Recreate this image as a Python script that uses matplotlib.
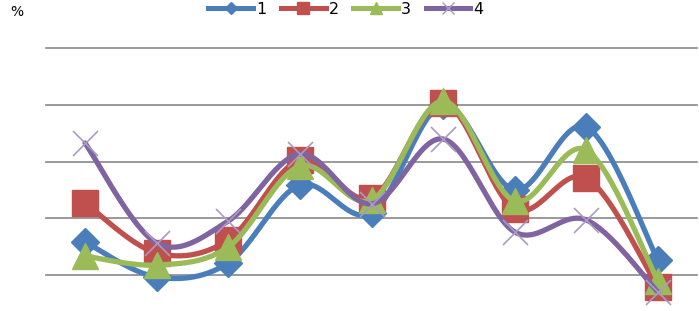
import numpy as np
import matplotlib
matplotlib.use("Agg")
import matplotlib.pyplot as plt
from matplotlib.lines import Line2D

categories = list(range(9))
s1 = [2.91, -0.18, 1.06, 7.93, 5.46, 14.98, 7.49, 13.04, 1.32]
s2 = [6.34, 1.94, 3.08, 10.13, 6.78, 15.15, 5.81, 8.55, -1.06]
s3 = [1.67, 0.88, 2.47, 9.60, 6.61, 15.33, 6.52, 11.01, -0.53]
s4 = [11.63, 2.82, 4.76, 10.66, 6.26, 11.98, 3.79, 4.85, -1.50]
labels = ["1", "2", "3", "4"]
series = [s1, s2, s3, s4]

colors = ["#4A7EBB", "#C0504D", "#9BBB59", "#8064A2"]
markers = ["D", "s", "^", "x"]
msizes = [14, 19, 19, 18]


def smooth(xs, ys, n=30):
    # Excel-like Bezier smoothing (Catmull-Rom control points)
    xs = np.asarray(xs, float); ys = np.asarray(ys, float)
    px, py = [], []
    m = len(xs)
    for i in range(m - 1):
        p0 = np.array([xs[max(i - 1, 0)], ys[max(i - 1, 0)]])
        p1 = np.array([xs[i], ys[i]])
        p2 = np.array([xs[i + 1], ys[i + 1]])
        p3 = np.array([xs[min(i + 2, m - 1)], ys[min(i + 2, m - 1)]])
        c1 = p1 + (p2 - p0) / 6.0
        c2 = p2 - (p3 - p1) / 6.0
        t = np.linspace(0, 1, n)[:, None]
        pts = ((1 - t) ** 3) * p1 + 3 * ((1 - t) ** 2) * t * c1 + 3 * (1 - t) * t ** 2 * c2 + t ** 3 * p2
        px.extend(pts[:, 0]); py.extend(pts[:, 1])
    return px, py


fig = plt.figure(figsize=(6.99, 3.11), dpi=100)
ax = fig.add_axes([46 / 699, 0.0, (697 - 46) / 699, 1 - 48 / 311])
ax.set_xlim(-0.545, 8.545)
ax.set_ylim(-3.17, 20)
for v in [0, 5, 10, 15, 20]:
    ax.axhline(v, color="#888888", lw=1.2, zorder=0, clip_on=False)
for sp in ax.spines.values():
    sp.set_visible(False)
ax.set_xticks([]); ax.set_yticks([])

for i, (ys, c, mk, ms) in enumerate(zip(series, colors, markers, msizes)):
    sx, sy = smooth(categories, ys)
    ax.plot(sx, sy, color=c, lw=3.8, solid_capstyle="round", zorder=2 + i, clip_on=False)
    if mk == "x":
        ax.plot(categories, ys, ls="none", marker=mk, ms=ms, mew=1.2, color="#A99BC4",
                zorder=2 + i, clip_on=False)
    else:
        ax.plot(categories, ys, ls="none", marker=mk, ms=ms, color=c, mec=c,
                zorder=2 + i, clip_on=False)

handles = []
for c, mk in zip(colors, markers):
    if mk == "x":
        handles.append(Line2D([], [], color=c, lw=3.6, marker="x", ms=9, mew=1.0, mec="#A99BC4"))
    else:
        handles.append(Line2D([], [], color=c, lw=3.6, marker=mk, ms=6 if mk == "D" else 8, mec=c, mfc=c))
fig.legend(handles, labels, loc="center", bbox_to_anchor=(346 / 699, 1 - 9.5 / 311), ncol=4,
           frameon=False, fontsize=11.5, handlelength=2.8, handletextpad=0.2, columnspacing=0.9,
           borderpad=0.0)

fig.text(10 / 699, 1 - 12 / 311, "%", fontsize=10, ha="left", va="center")

fig.savefig("out.png", dpi=100)
